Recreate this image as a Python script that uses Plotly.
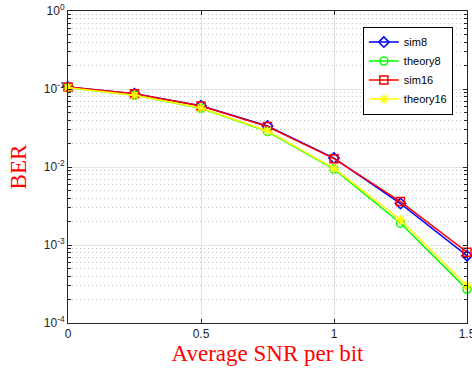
import plotly.graph_objects as go

snr = [0, 0.25, 0.5, 0.75, 1.0, 1.25, 1.5]
sim8 = [0.106, 0.087, 0.0610, 0.0335, 0.0130, 0.0034, 0.00073]
theory8 = [0.104, 0.083, 0.0565, 0.0285, 0.0094, 0.0019, 0.00027]
sim16 = [0.106, 0.087, 0.0605, 0.0330, 0.0128, 0.0036, 0.00081]
theory16 = [0.104, 0.083, 0.0570, 0.0290, 0.0096, 0.0021, 0.00030]

ytickvals = [1e-4, 1e-3, 1e-2, 1e-1, 1]
yticktext = ["10<sup>-4</sup>", "10<sup>-3</sup>", "10<sup>-2</sup>", "10<sup>-1</sup>", "10<sup>0</sup>"]
xtickvals = [0, 0.5, 1, 1.5]
xticktext = ["0", "0.5", "1", "1.5"]

fig = go.Figure()
series = [
    ("sim8", sim8, "blue", "diamond-open", 8),
    ("theory8", theory8, "#00ff00", "circle-open", 8),
    ("sim16", sim16, "red", "square-open", 8),
    ("theory16", theory16, "yellow", "asterisk-open", 8),
]
for name, ys, col, sym, sz in series:
    fig.add_trace(go.Scatter(
        x=snr, y=ys, name=name, mode="lines+markers", cliponaxis=False,
        line=dict(color=col, width=1.5),
        marker=dict(symbol=sym, size=sz, color=col, line=dict(color=col, width=1.5)),
    ))

fig.update_layout(
    width=472, height=375,
    margin=dict(l=68, r=5, t=11, b=52),
    plot_bgcolor="white", paper_bgcolor="white",
    font=dict(family="Liberation Sans, Arial", size=12, color="#262626"),
    legend=dict(x=0.739, y=0.95, xanchor="left", yanchor="top",
                bgcolor="white", bordercolor="black", borderwidth=1,
                font=dict(size=11, color="black"), tracegroupgap=0, itemwidth=30),
    showlegend=True,
)
fig.update_xaxes(
    range=[0, 1.5], tickvals=xtickvals, ticktext=xticktext, automargin=False,
    ticklabeloverflow="allow",
    showline=True, linecolor="#262626", linewidth=1, mirror="ticks",
    ticks="inside", ticklen=4, tickcolor="#262626",
    showgrid=True, gridcolor="#e3e3e3", gridwidth=1, zeroline=False,
    title=dict(text="Average SNR per bit", font=dict(family="Liberation Serif, Times New Roman", size=23, color="red"), standoff=3),
)
fig.update_yaxes(
    type="log", range=[-4, 0], tickvals=ytickvals, ticktext=yticktext, automargin=False,
    ticklabeloverflow="allow",
    showline=True, linecolor="#262626", linewidth=1, mirror="ticks",
    ticks="inside", ticklen=4, tickcolor="#262626",
    showgrid=True, gridcolor="#e3e3e3", gridwidth=1, zeroline=False,
    minor=dict(dtick="D1", ticks="inside", ticklen=3, tickcolor="#262626",
               showgrid=True, gridcolor="#c4c4c4", griddash="1px,3px", gridwidth=1),
    title=dict(text="BER", font=dict(family="Liberation Serif, Times New Roman", size=23, color="red"), standoff=10),
)

fig.write_html("out.html", config={"displayModeBar": False},
               post_script="document.body.style.margin='0px';document.body.style.overflow='hidden';")
